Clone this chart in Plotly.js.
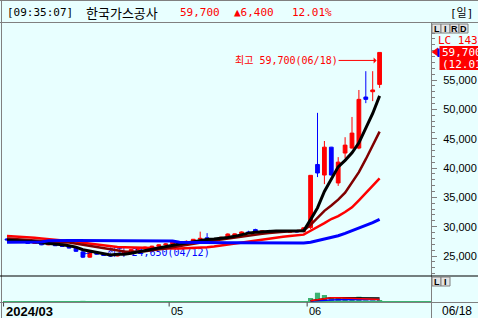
<!DOCTYPE html>
<html><head><meta charset="utf-8">
<script src="https://cdn.plot.ly/plotly-3.0.1.min.js"></script>
<style>html,body{margin:0;padding:0;background:#e8ffff;overflow:hidden}#chart{width:478px;height:318px}</style>
</head><body><div id="chart"></div>
<script>
// ---------- data ----------
const stockName = '한국가스공사';
const quoteTime = '09:35:07';
const periodLabel = '일';
const lcText = 'LC 143';

const dates = [
 '2024-03-27','2024-03-28','2024-03-29',
 '2024-04-01','2024-04-02','2024-04-03','2024-04-04','2024-04-05','2024-04-08','2024-04-09','2024-04-11','2024-04-12',
 '2024-04-15','2024-04-16','2024-04-17','2024-04-18','2024-04-19','2024-04-22','2024-04-23','2024-04-24','2024-04-25',
 '2024-04-26','2024-04-29','2024-04-30',
 '2024-05-02','2024-05-03','2024-05-07','2024-05-08','2024-05-09','2024-05-10','2024-05-13','2024-05-14','2024-05-16',
 '2024-05-17','2024-05-20','2024-05-21','2024-05-22','2024-05-23','2024-05-24','2024-05-27','2024-05-28','2024-05-29',
 '2024-05-30','2024-05-31',
 '2024-06-03','2024-06-04','2024-06-05','2024-06-07','2024-06-10','2024-06-11','2024-06-12','2024-06-13','2024-06-14',
 '2024-06-17','2024-06-18'
];
const labelledMonths = ['03','05','06'];
const opens = [27900,27750,27500,27450,27150,27300,26900,27050,26750,26650,26350,25700,24800,25650,25300,25100,25000,25350,25800,26100,26250,26500,26650,26900,27050,27400,27250,27500,27850,28100,27950,27800,28000,28600,28800,29100,29500,29050,29300,29150,29250,29050,29300,29150,29850,40600,38800,43550,37450,42550,43400,43400,52100,53000,54250];
const highs = [28050,27850,27700,27550,27450,27350,27200,27100,26900,26700,26400,25800,25700,25700,25400,25250,25450,25900,26200,26350,26600,26750,27000,27150,27500,27450,27650,27900,29150,28900,28000,28300,28850,28800,29200,29300,29650,29400,29450,29400,29300,29400,29350,29900,38750,49400,44600,43600,41850,45250,48700,53300,56500,56500,59700];
const lows = [27650,27400,27350,27100,27100,26850,26850,26700,26550,26300,25700,24650,24700,25200,25050,24900,24950,25300,25750,26000,26150,26400,26550,26800,27000,27150,27200,27450,27800,27900,27700,27750,27950,28500,28750,28900,29000,28950,29000,29050,28950,29000,29000,29050,29600,38450,37250,38700,36950,41700,43300,43200,51050,51400,53650];
const closes = [27750,27500,27450,27150,27300,26900,27050,26750,26650,26350,25800,24800,25650,25300,25100,25000,25350,25800,26100,26250,26500,26650,26900,27050,27400,27250,27500,27850,28000,27950,27800,28200,28750,28750,29100,29000,29050,29300,29150,29250,29050,29300,29100,29800,38750,39150,43550,38800,41000,43900,45950,51700,51700,53300,59700];

// moving averages
const ma5 = [27700,27650,27600,27500,27430,27260,27170,27030,26930,26740,26520,26070,25850,25580,25330,25170,25280,25310,25470,25700,26000,26260,26480,26670,26900,27050,27220,27410,27650,27800,27900,28000,28150,28350,28650,28900,29050,29150,29250,29250,29250,29250,29200,29300,31200,33200,36000,38000,40200,41300,42600,44300,46800,49300,52300];
const ma10 = [28000,27900,27800,27700,27600,27500,27450,27350,27300,27280,27090,26820,26640,26450,26230,26050,25880,25780,25730,25720,25790,25970,26100,26270,26500,26720,26940,27150,27330,27480,27620,27800,27950,28100,28270,28450,28620,28780,28920,29050,29150,29200,29250,29350,30300,31500,32700,33600,34600,35800,37500,39300,41500,43800,46200];
const ma20 = [28400,28350,28300,28200,28100,28000,27900,27800,27700,27600,27450,27250,27100,26950,26800,26650,26550,26500,26450,26400,26340,26300,26270,26270,26270,26290,26320,26370,26430,26500,26600,26780,26920,27090,27280,27470,27660,27830,27990,28140,28270,28400,28510,28640,29300,29900,30600,31300,31800,32500,33300,34500,35700,36900,38250];
const ma60 = [27350,27350,27350,27350,27350,27400,27600,27650,27650,27650,27650,27650,27650,27650,27650,27650,27650,27650,27650,27600,27600,27600,27600,27600,27550,27350,27300,27300,27300,27300,27250,27250,27250,27250,27250,27200,27200,27200,27200,27200,27200,27150,27150,27200,27350,27600,27900,28150,28450,28850,29300,29800,30250,30700,31250];

const volumes = [650000,580000,520000,700000,610000,720000,540000,630000,590000,680000,1450000,1900000,1250000,820000,760000,690000,710000,880000,760000,640000,700000,590000,620000,560000,780000,650000,720000,900000,1350000,980000,720000,860000,1100000,780000,820000,760000,900000,830000,700000,680000,640000,720000,690000,1300000,10200000,25500000,18900000,10200000,10200000,9300000,7300000,13900000,3500000,3500000,4400000];
const N = null;
const volMaRed = [N,N,N,N,N,N,N,N,N,N,N,N,N,N,N,N,N,N,N,N,N,N,N,N,N,N,N,N,N,N,N,N,N,N,N,N,N,N,N,N,N,N,N,N,2500000,6000000,9500000,11000000,11000000,10500000,9500000,9000000,7500000,6500000,6000000];
const volMaBlue = [N,N,N,N,N,N,N,N,N,N,N,N,N,N,N,N,N,N,N,N,N,N,N,N,N,N,N,N,N,N,N,N,N,N,N,N,N,N,N,N,N,N,N,N,1500000,3000000,4000000,4500000,5000000,5200000,5400000,5800000,5700000,5600000,5600000];
const volMaBlack = [N,N,N,N,N,N,N,N,N,N,N,N,N,N,N,N,N,N,N,N,N,N,N,N,N,N,N,N,N,N,N,N,N,N,N,N,N,N,N,N,N,N,N,N,2500000,6000000,9500000,11000000,11000000,10500000,10000000,10500000,10000000,10000000,10000000];

const priceTicks = [25000,30000,35000,40000,45000,50000,55000];

// ---------- helpers ----------
const W = 478, H = 318;
const BG = '#e8ffff';
const MONO = 'DejaVu Sans Mono, Noto Sans CJK KR, monospace';
const KR = 'Noto Sans CJK KR, sans-serif';
const SANS = 'Liberation Sans, Arial, sans-serif';
const RED = '#ff0000', BLUE = '#0000ff', GRAY = '#808080';
const fmt = n => n.toLocaleString('en-US');
const mmdd = d => d.slice(5,7) + '/' + d.slice(8,10);
const px = x => x / W, py = y => 1 - y / H;

const n = closes.length;
const last = closes[n-1], prev = closes[n-2];
const chg = last - prev, pct = chg / prev * 100;
const hiVal = Math.max(...highs), hiIdx = highs.indexOf(hiVal);
const loVal = Math.min(...lows), loIdx = lows.indexOf(loVal);

// month starts (only the labelled ones)
const monthStarts = [];
dates.forEach((d,i) => {
  if ((i === 0 || d.slice(5,7) !== dates[i-1].slice(5,7)) && labelledMonths.includes(d.slice(5,7))) monthStarts.push(i);
});

// ---------- traces ----------
const traces = [
 {type:'scatter', mode:'text', x:[dates[loIdx]], y:[loVal],
  text:['←── 최저 ' + fmt(loVal) + '(' + mmdd(dates[loIdx]) + ')'],
  textposition:'top right', textfont:{family:MONO, size:10, color:BLUE}, hoverinfo:'skip', xaxis:'x', yaxis:'y'},
 {type:'candlestick', x:dates, open:opens, high:highs, low:lows, close:closes,
  increasing:{line:{color:RED, width:1}, fillcolor:RED},
  decreasing:{line:{color:BLUE, width:1}, fillcolor:BLUE},
  whiskerwidth:0, hoverinfo:'skip', xaxis:'x', yaxis:'y'},
 {type:'scatter', mode:'lines', x:dates, y:ma20, line:{color:'#ff0000', width:2.5}, hoverinfo:'skip'},
 {type:'scatter', mode:'lines', x:dates, y:ma10, line:{color:'#800000', width:2.5}, hoverinfo:'skip'},
 {type:'scatter', mode:'lines', x:dates, y:ma5, line:{color:'#000000', width:3}, hoverinfo:'skip'},
 {type:'scatter', mode:'lines', x:dates, y:ma60, line:{color:'#0000ff', width:3}, hoverinfo:'skip'},
 {type:'bar', x:dates, y:volumes, marker:{color:'#3cb371', line:{width:0}}, xaxis:'x2', yaxis:'y2', hoverinfo:'skip'},
 {type:'scatter', mode:'lines', x:dates, y:volMaBlue, line:{color:'#0000ff', width:1.5}, xaxis:'x2', yaxis:'y2', hoverinfo:'skip'},
 {type:'scatter', mode:'lines', x:dates, y:volMaBlack, line:{color:'#000000', width:1.5}, xaxis:'x2', yaxis:'y2', hoverinfo:'skip'},
 {type:'scatter', mode:'lines', x:dates, y:volMaRed, line:{color:'#ff0000', width:1.5}, xaxis:'x2', yaxis:'y2', hoverinfo:'skip'}
];

// ---------- shapes ----------
const L = (x0,y0,x1,y1,color,w) => ({type:'line', xref:'paper', yref:'paper', x0:px(x0), y0:py(y0), x1:px(x1), y1:py(y1), line:{color, width:w||1}});
const R = (x0,y0,x1,y1,fill,lc) => ({type:'rect', xref:'paper', yref:'paper', x0:px(x0), y0:py(y0), x1:px(x1), y1:py(y1), fillcolor:fill, line:{color:lc||fill, width:lc?1:0}});
const shapes = [
 L(0,0.5,478,0.5,GRAY), L(1.5,0,1.5,318,GRAY), L(0,22.5,478,22.5,GRAY),
 L(431.5,22.5,431.5,318,GRAY), L(0,276,478,276,'#000',1.2), L(0,302.5,478,302.5,GRAY),
 R(432,24,441,33,'#e4e4e4',GRAY), R(441,24,450,33,'#e4e4e4',GRAY), R(450,24,459,33,'#e4e4e4',GRAY), R(459,24,468,33,'#e4e4e4',GRAY),
 R(432,277,441,286,'#e4e4e4',GRAY), R(441,277,450,286,'#e4e4e4',GRAY),
 R(439.5,46,478,70,RED),
 {type:'path', xref:'paper', yref:'paper', path:`M ${px(431.5)} ${py(52)} L ${px(438)} ${py(47.5)} L ${px(438)} ${py(56.5)} Z`, fillcolor:RED, line:{width:0}},
 R(437.5,48.5,439.5,57,BLUE)
];
monthStarts.forEach(i => shapes.push({type:'line', xref:'x', yref:'paper', x0:i-0.5, x1:i-0.5, y0:py(302.5), y1:py(306.5), line:{color:'#404040', width:1}}));

// ---------- annotations ----------
const A = (text,x,y,font,o) => Object.assign({text, x:px(x), y:py(y), xref:'paper', yref:'paper', xanchor:'left', yanchor:'middle', showarrow:false, borderpad:0, font}, o||{});
const tf = {family:MONO, size:11, color:'#000'};
const rf = {family:MONO, size:11, color:RED};
const annotations = [
 A('[' + quoteTime + ']', 6, 12.5, tf),
 A(stockName, 85, 12.5, {family:KR, size:13, color:'#000'}),
 A(fmt(last), 179, 12.5, rf),
 A('▲' + fmt(chg), 233, 12.5, rf),
 A(pct.toFixed(2) + '%', 291, 12.5, rf),
 A('[' + periodLabel + ']', 449, 12.5, tf),
 A('<b>L</b>', 436.5, 28.8, {family:SANS, size:9, color:'#000'}, {xanchor:'center'}),
 A('<b>I</b>', 445.5, 28.8, {family:SANS, size:9, color:'#000'}, {xanchor:'center'}),
 A('<b>R</b>', 454.5, 28.8, {family:SANS, size:9, color:'#000'}, {xanchor:'center'}),
 A('<b>D</b>', 463.5, 28.8, {family:SANS, size:9, color:'#000'}, {xanchor:'center'}),
 A('<b>L</b>', 436.5, 281.8, {family:SANS, size:9, color:'#000'}, {xanchor:'center'}),
 A('<b>I</b>', 445.5, 281.8, {family:SANS, size:9, color:'#000'}, {xanchor:'center'}),
 A(lcText, 437, 41, {family:MONO, size:11, color:RED}),
 A(fmt(last), 441, 52.5, {family:MONO, size:11, color:'#fff'}),
 A('(' + pct.toFixed(2) + '%)', 441, 64.5, {family:MONO, size:11, color:'#fff'}),
 A(mmdd(dates[n-1]), 441, 311, {family:SANS, size:12, color:'#000'}),
 {x:dates[hiIdx], y:hiVal, xref:'x', yref:'y', text:'최고 ' + fmt(hiVal) + '(' + mmdd(dates[hiIdx]) + ')',
  showarrow:true, arrowhead:1, arrowsize:1, arrowwidth:1, arrowcolor:RED, ax:-90, ay:0, xshift:-3, yshift:-8,
  font:{family:MONO, size:10, color:RED}, borderpad:0}
];
monthStarts.forEach((i,k) => {
  const d = dates[i];
  const lab = k === 0 ? '<b>' + d.slice(0,4) + '/' + d.slice(5,7) + '</b>' : d.slice(5,7);
  annotations.push({text:lab, x:i-0.5, y:py(311), xref:'x', yref:'paper', xanchor:'left', yanchor:'middle', xshift:1, showarrow:false, borderpad:0,
    font:{family:SANS, size:k === 0 ? 13 : 11, color:'#000'}});
});

// ---------- layout ----------
const xcommon = {type:'category', categoryorder:'array', categoryarray:dates, range:[-0.58,61.45], showticklabels:false, ticks:'', showgrid:false, zeroline:false, showline:false, rangeslider:{visible:false}, fixedrange:true};
const layout = {
 width:W, height:H, autosize:false, margin:{l:0,r:0,t:0,b:0,pad:0},
 paper_bgcolor:BG, plot_bgcolor:BG, showlegend:false, boxgap:0.22, bargap:0.25, hovermode:false,
 xaxis:Object.assign({domain:[px(3),px(431)], anchor:'y'}, xcommon),
 yaxis:{domain:[py(276),py(23)], side:'right', range:[21591,64716], tickmode:'array', tickvals:priceTicks, tickformat:',d',
   ticks:'outside', ticklen:5, tickwidth:1, tickcolor:GRAY, ticklabelstandoff:4,
   minor:{dtick:1000, tick0:0, ticks:'outside', ticklen:3, tickwidth:1, tickcolor:GRAY, showgrid:false},
   showgrid:false, zeroline:false, showline:false, tickfont:{family:SANS, size:11, color:'#000'}, fixedrange:true},
 xaxis2:Object.assign({domain:[px(3),px(431)], anchor:'y2'}, xcommon),
 yaxis2:{domain:[py(302),py(276)], anchor:'x2', range:[-1450000,73900000], showticklabels:false, ticks:'', showgrid:false,
   zeroline:true, zerolinecolor:'#3cb371', zerolinewidth:1, fixedrange:true},
 shapes, annotations
};

Plotly.newPlot('chart', traces, layout, {staticPlot:true, displayModeBar:false});
</script>
</body></html>
